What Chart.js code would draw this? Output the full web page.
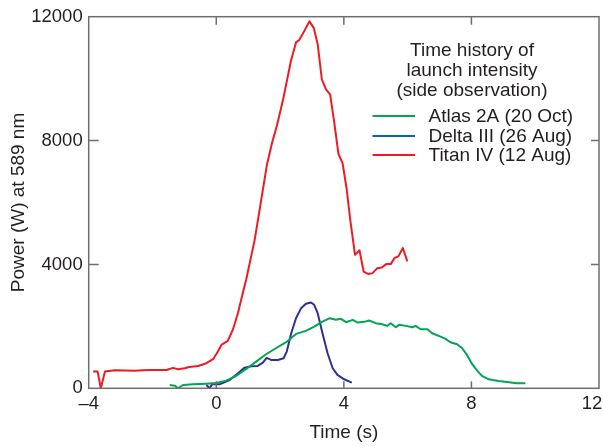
<!DOCTYPE html>
<html>
<head>
<meta charset="utf-8">
<script src="https://cdn.jsdelivr.net/npm/chart.js@4/dist/chart.umd.min.js"></script>
<style>
  html, body { margin: 0; padding: 0; background: #fff; }
  #wrap { width: 603px; height: 446px; position: relative; }
</style>
</head>
<body>
<div id="wrap"><canvas id="c" width="603" height="446"></canvas></div>
<script>
// ---- Data ----
const seriesLabels = ["Atlas 2A (20 Oct)", "Delta III (26 Aug)", "Titan IV (12 Aug)"];
const legendTitle = ["Time history of", "launch intensity", "(side observation)"];
const xTitle = "Time (s)";
const yTitle = "Power (W) at 589 nm";
const xTicks = [-4, 0, 4, 8, 12];
const yTicks = [0, 4000, 8000, 12000];

const atlasTime = [-1.46, -1.3, -1.2, -1.04, -0.73, -0.31, 0, 0.31, 0.62, 0.94, 1.25, 1.56, 1.87, 2.19, 2.5, 2.81, 3.07, 3.33, 3.56, 3.75, 3.91, 4.07, 4.28, 4.43, 4.64, 4.79, 5.0, 5.2, 5.36, 5.47, 5.63, 5.73, 5.94, 6.15, 6.25, 6.41, 6.62, 6.77, 7.03, 7.19, 7.34, 7.55, 7.71, 7.86, 8.02, 8.18, 8.33, 8.54, 8.85, 9.17, 9.43, 9.69];
const atlasPower = [107, 86, 0, 107, 128, 150, 172, 247, 398, 625, 862, 1099, 1294, 1488, 1757, 1854, 1994, 2156, 2264, 2211, 2243, 2135, 2211, 2124, 2146, 2189, 2103, 2070, 2016, 2103, 1973, 2049, 2016, 1973, 2016, 1908, 1908, 1779, 1671, 1595, 1487, 1423, 1294, 1078, 787, 571, 399, 291, 237, 194, 162, 162];

const deltaTime = [-0.31, -0.21, -0.13, 0.1, 0.42, 0.68, 0.89, 1.1, 1.3, 1.46, 1.58, 1.72, 1.93, 2.11, 2.21, 2.35, 2.5, 2.66, 2.81, 2.97, 3.07, 3.18, 3.33, 3.49, 3.65, 3.8, 4.01, 4.25];
const deltaPower = [107, 0, 128, 128, 269, 485, 668, 711, 722, 830, 981, 916, 916, 970, 1186, 1779, 2264, 2588, 2728, 2771, 2696, 2426, 1779, 1132, 647, 431, 291, 183];

const titanTime = [-3.86, -3.72, -3.62, -3.49, -3.18, -2.85, -2.55, -2.3, -2.03, -1.56, -1.36, -1.2, -0.99, -0.85, -0.57, -0.31, -0.1, 0.05, 0.16, 0.36, 0.52, 0.68, 0.83, 0.94, 1.2, 1.36, 1.59, 1.75, 1.9, 2.1, 2.34, 2.5, 2.6, 2.76, 2.92, 3.06, 3.18, 3.31, 3.44, 3.57, 3.7, 3.83, 3.96, 4.09, 4.2, 4.35, 4.49, 4.62, 4.77, 4.9, 5.05, 5.19, 5.33, 5.47, 5.59, 5.71, 5.85, 5.99];
const titanPower = [540, 540, 0, 540, 580, 575, 570, 585, 590, 590, 660, 615, 650, 690, 720, 810, 940, 1190, 1400, 1530, 1890, 2430, 3070, 3520, 4770, 5770, 7230, 7930, 8480, 9350, 10570, 11170, 11250, 11540, 11850, 11630, 11110, 9980, 9650, 9490, 8580, 7570, 7270, 6420, 5450, 4310, 4460, 3770, 3690, 3720, 3880, 3900, 4010, 4010, 4210, 4260, 4530, 4100];

// ---- Styles ----
const TEXT = '#231f20';
const FRAME = '#6d6e71';
const lineColors = ['#00a651', '#2e3192', '#ed1c24'];
const legendColors = ['#00a651', '#0a64b4', '#ed1c24'];
const FONT = "'Liberation Sans', Arial, Helvetica, sans-serif";

function pts(t, v) { return t.map((x, i) => ({ x: x, y: v[i] })); }

const framePlugin = {
  id: 'frameTicks',
  beforeDraw(chart) {
    // nudge the last x tick label so it stays inside the canvas (as in the reference)
    const xs = chart.scales.x;
    const items = xs.getLabelItems(chart.chartArea);
    if (items.length) {
      const last = items[items.length - 1];
      last.options.translation[0] -= 7;
    }
  },
  afterDraw(chart) {
    const { ctx, chartArea: a, scales } = chart;
    ctx.save();
    ctx.strokeStyle = FRAME;
    ctx.lineWidth = 1.5;
    ctx.strokeRect(a.left, a.top, a.right - a.left, a.bottom - a.top);
    ctx.beginPath();
    scales.x.ticks.forEach(t => {
      const px = scales.x.getPixelForValue(t.value);
      if (px <= a.left + 1 || px >= a.right - 1) return;
      ctx.moveTo(px, a.bottom); ctx.lineTo(px, a.bottom - 7);
      ctx.moveTo(px, a.top); ctx.lineTo(px, a.top + 8);
    });
    scales.y.ticks.forEach(t => {
      const py = scales.y.getPixelForValue(t.value);
      if (py <= a.top + 1 || py >= a.bottom - 1) return;
      ctx.moveTo(a.left, py); ctx.lineTo(a.left + 10, py);
      ctx.moveTo(a.right, py); ctx.lineTo(a.right - 8, py);
    });
    ctx.stroke();

    // legend (title + series), drawn from the dataset labels/colours
    ctx.fillStyle = TEXT;
    ctx.font = '19px ' + FONT;
    ctx.textAlign = 'center';
    ctx.textBaseline = 'alphabetic';
    const titleY = [56, 76, 95.5];
    legendTitle.forEach((s, i) => ctx.fillText(s, 472, titleY[i]));
    const itemY = [122, 141.5, 161];
    const lineY = [116, 136, 155];
    ctx.textAlign = 'left';
    chart.data.datasets.forEach((ds, i) => {
      ctx.strokeStyle = ds.legendColor;
      ctx.lineWidth = 2;
      ctx.beginPath();
      ctx.moveTo(372.5, lineY[i]); ctx.lineTo(415, lineY[i]);
      ctx.stroke();
      ctx.fillText(ds.label, 428.5, itemY[i]);
    });
    ctx.restore();
  }
};

new Chart(document.getElementById('c'), {
  type: 'line',
  data: {
    datasets: [
      { label: seriesLabels[0], data: pts(atlasTime, atlasPower), borderColor: lineColors[0], legendColor: legendColors[0] },
      { label: seriesLabels[1], data: pts(deltaTime, deltaPower), borderColor: lineColors[1], legendColor: legendColors[1] },
      { label: seriesLabels[2], data: pts(titanTime, titanPower), borderColor: lineColors[2], legendColor: legendColors[2] }
    ]
  },
  options: {
    responsive: false,
    animation: false,
    devicePixelRatio: 1,
    layout: { padding: { top: 16.7, right: 4, left: 0, bottom: 0 } },
    elements: {
      line: { borderWidth: 2, tension: 0, fill: false, borderJoinStyle: 'round' },
      point: { radius: 0, hoverRadius: 0 }
    },
    plugins: { legend: { display: false }, tooltip: { enabled: false } },
    scales: {
      x: {
        type: 'linear',
        min: xTicks[0], max: xTicks[xTicks.length - 1],
        afterBuildTicks(s) { s.ticks = xTicks.map(v => ({ value: v })); },
        grid: { display: false, drawTicks: false },
        border: { display: false },
        ticks: {
          autoSkip: false, maxRotation: 0, padding: 5, color: TEXT,
          font: { family: FONT, size: 18.5 },
          callback: v => (v < 0 ? '\u2013' + Math.abs(v) : String(v))
        },
        title: { display: true, text: xTitle, color: TEXT, font: { family: FONT, size: 19 }, padding: { top: 0, bottom: 2 } },
        afterFit(s) { s.height = 57.7; s.paddingLeft = 0; s.paddingRight = 0; }
      },
      y: {
        type: 'linear',
        min: yTicks[0], max: yTicks[yTicks.length - 1],
        afterBuildTicks(s) { s.ticks = yTicks.map(v => ({ value: v })); },
        grid: { display: false, drawTicks: false },
        border: { display: false },
        ticks: {
          padding: 6, color: TEXT,
          font: { family: FONT, size: 18.5 },
          callback: v => String(v)
        },
        title: { display: true, text: yTitle, color: TEXT, font: { family: FONT, size: 19 }, padding: { top: 7, bottom: 0 } },
        afterFit(s) { s.width = 88.7; s.paddingTop = 0; s.paddingBottom = 0; }
      }
    }
  },
  plugins: [framePlugin]
});
</script>
</body>
</html>
